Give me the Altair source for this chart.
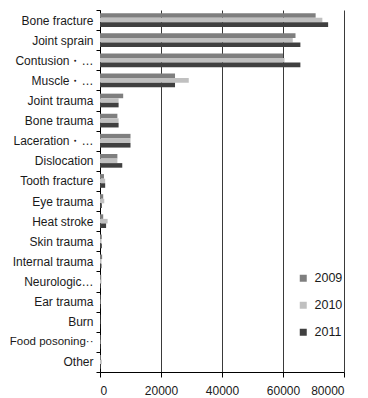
import altair as alt
import pandas as pd

categories = [
    "Bone fracture", "Joint sprain", "Contusion・…", "Muscle・…", "Joint trauma",
    "Bone trauma", "Laceration・…", "Dislocation", "Tooth fracture", "Eye trauma",
    "Heat stroke", "Skin trauma", "Internal trauma", "Neurologic…", "Ear trauma",
    "Burn", "Food posoning··", "Other",
]
years = ["2009", "2010", "2011"]
v2009 = [70700, 64100, 60000, 24600, 7600, 5700, 10000, 5700, 1300, 1050,
         1050, 600, 700, 400, 200, 100, 200, 300]
v2010 = [72900, 63200, 60500, 29100, 6100, 6100, 10000, 5700, 1700, 1400,
         2500, 500, 500, 500, 200, 100, 200, 600]
v2011 = [74800, 65700, 65700, 24600, 6100, 6100, 10000, 7300, 1700, 600,
         2000, 600, 500, 300, 200, 100, 200, 300]
colors = ["#7f7f7f", "#c0c0c0", "#404040"]

rows = []
for yr, vals in zip(years, [v2009, v2010, v2011]):
    for c, v in zip(categories, vals):
        rows.append({"category": c, "year": yr, "value": v})
df = pd.DataFrame(rows)

FONT = "Liberation Sans"
long_label = "Food posoning··"

chart = alt.Chart(df).mark_bar().encode(
    y=alt.Y("category:N", sort=categories,
            scale=alt.Scale(paddingInner=0, paddingOuter=0),
            axis=alt.Axis(title=None, tickBand="extent", grid=False,
                          domainColor="#000000", tickColor="#000000",
                          tickSize=4, labelPadding=3,
                          labelFontSize=alt.condition(
                              f"datum.value == '{long_label}'",
                              alt.value(11.5), alt.value(12)),
                          labelColor="#1a1a1a", labelFont=FONT, labelLimit=0)),
    yOffset=alt.YOffset("year:N", sort=years,
                        scale=alt.Scale(paddingInner=0, paddingOuter=0.7)),
    x=alt.X("value:Q", scale=alt.Scale(domain=[0, 80000], nice=False),
            axis=alt.Axis(title=None, values=[0, 20000, 40000, 60000, 80000],
                          format="d", grid=True, gridColor="#3a3a3a",
                          gridWidth=1, domainColor="#000000",
                          tickColor="#000000", tickSize=5, labelPadding=8,
                          labelFontSize=12, labelColor="#1a1a1a",
                          labelFont=FONT)),
    color=alt.Color("year:N", sort=years,
                    scale=alt.Scale(domain=years, range=colors),
                    legend=alt.Legend(title=None, orient="none",
                                      legendX=197, legendY=262,
                                      symbolType="square", symbolSize=49,
                                      symbolStrokeWidth=0, labelFontSize=12.5,
                                      labelFont=FONT, labelColor="#1a1a1a",
                                      rowPadding=14, labelOffset=5)),
).properties(
    width=244,
    height=362,
    padding={"left": 92, "top": 2, "right": 14, "bottom": 26},
    autosize=alt.AutoSizeParams(type="none"),
).configure_view(stroke=None)

chart.save("out.html", embed_options={"renderer": "svg", "actions": False})
